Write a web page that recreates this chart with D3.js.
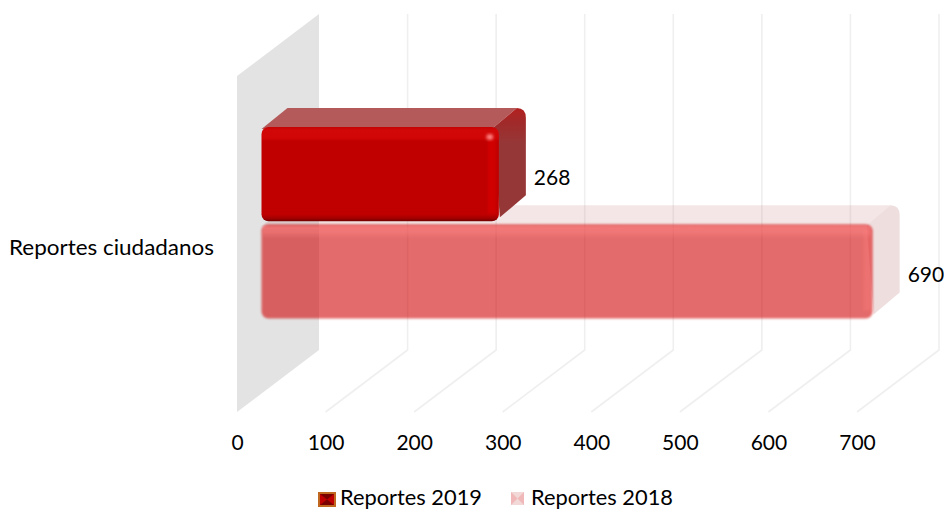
<!DOCTYPE html>
<html><head><meta charset="utf-8">
<script src="https://cdnjs.cloudflare.com/ajax/libs/d3/7.8.5/d3.min.js"></script>
<style>html,body{margin:0;padding:0;background:#fff;overflow:hidden}svg{display:block}text{font-family:Lato,"Open Sans",sans-serif;fill:#000}</style>
</head><body><svg width="944" height="510"></svg>
<script>
const category = "Reportes ciudadanos";
const seriesNames = ["Reportes 2019", "Reportes 2018"];
const seriesValues = [268, 690];
const tickValues = [0, 100, 200, 300, 400, 500, 600, 700];

const svg = d3.select("svg");
const FS = 21;
const x = d3.scaleLinear().domain([0, 700]).range([237, 857]);
const y = d3.scaleBand().domain(seriesNames).range([127, 318.5]).paddingInner(0.03).paddingOuter(0);
const floorY = 412, depthX = 82, depthY = 62, wallH = 336;
const barDx = 24.5, barDepthX = 27, barDepthY = 19;

const defs = svg.append("defs");
const blur = defs.append("filter").attr("id", "soft").attr("x", "-5%").attr("y", "-5%").attr("width", "110%").attr("height", "110%");
blur.append("feGaussianBlur").attr("stdDeviation", 1.3);
const blur2 = defs.append("filter").attr("id", "soft2").attr("x", "-60%").attr("y", "-30%").attr("width", "220%").attr("height", "160%");
blur2.append("feGaussianBlur").attr("stdDeviation", 1.8);
function vgrad(id, stops){
  const g = defs.append("linearGradient").attr("id", id).attr("x1",0).attr("y1",0).attr("x2",0).attr("y2",1);
  stops.forEach(s => g.append("stop").attr("offset", s[0]).attr("stop-color", s[1]).attr("stop-opacity", s[2] === undefined ? 1 : s[2]));
}
vgrad("front19", [[0,"#c40303"],[.03,"#d20707"],[.12,"#d00505"],[.15,"#c00000"],[.93,"#c00000"],[.97,"#a00000"],[1,"#6e0000"]]);
vgrad("side19", [[0,"#b32020"],[.14,"#a02a2a"],[.32,"#963737"],[1,"#963737"]]);
vgrad("strip18", [[0,"#ff8484",.6],[.6,"#ff8484",.4],[1,"#ff8484",0]]);

// wall
const x0 = x(0);
svg.append("path")
  .attr("d", d3.line()([[x0,floorY],[x0+depthX,floorY-depthY],[x0+depthX,floorY-depthY-wallH],[x0,floorY-wallH]]))
  .attr("fill", "#e3e3e3");

// gridlines
svg.append("g").selectAll("path").data(tickValues.slice(1)).join("path")
  .attr("d", d => d3.line()([[x(d),floorY],[x(d)+depthX,floorY-depthY],[x(d)+depthX,floorY-depthY-wallH]]))
  .attr("fill", "none").attr("stroke", "#efefef").attr("stroke-width", 1.6);

// x axis labels
const axis = d3.axisBottom(x).tickValues(tickValues).tickSize(0).tickPadding(0);
const ax = svg.append("g").attr("transform", `translate(0,${floorY+23})`).call(axis);
ax.select(".domain").remove();
ax.selectAll("text").attr("font-size", FS).attr("dy", "0.72em").style("font-family", "Lato").attr("fill", "#000");

function barGeom(name, v){
  const l = x(0) + barDx, r = x(v) + barDx, t = y(name), b = t + y.bandwidth();
  return {l, r, t, b};
}
function topPath(g){
  return `M${g.l},${g.t+2} L${g.l+barDepthX-1},${g.t-barDepthY} L${g.r+barDepthX-9},${g.t-barDepthY} L${g.r-6},${g.t+1} Z`;
}
function sidePath(g){
  return `M${g.r-6},${g.t+1} L${g.r+barDepthX-9},${g.t-barDepthY} Q${g.r+barDepthX},${g.t-barDepthY} ${g.r+barDepthX},${g.t-barDepthY+10} L${g.r+barDepthX},${g.b-barDepthY-7} L${g.r+1},${g.b-4} Z`;
}

// 2018 bar (drawn first, translucent)
const g18 = barGeom(seriesNames[1], seriesValues[1]);
const b18 = svg.append("g");
b18.append("path").attr("d", topPath(g18)).attr("fill", "#c88484").attr("fill-opacity", .2);
b18.append("path").attr("d", sidePath(g18)).attr("fill", "#c07c7c").attr("fill-opacity", .25);
const f18 = b18.append("g").attr("filter", "url(#soft)");
f18.append("rect").attr("x", g18.l).attr("y", g18.t).attr("width", g18.r-g18.l).attr("height", g18.b-g18.t).attr("rx", 7)
  .attr("fill", "rgb(209,0,0)").attr("fill-opacity", .58);
b18.append("rect").attr("x", g18.l+1).attr("y", g18.t+2).attr("width", g18.r-g18.l-3).attr("height", 12).attr("fill", "url(#strip18)").attr("filter", "url(#soft)");
b18.append("rect").attr("x", g18.r-9).attr("y", g18.t+6).attr("width", 7).attr("height", g18.b-g18.t-14).attr("fill", "#ff7c7c").attr("fill-opacity", .32).attr("filter", "url(#soft2)");

// 2019 bar
const g19 = barGeom(seriesNames[0], seriesValues[0]);
const b19 = svg.append("g");
b19.append("path").attr("d", topPath(g19)).attr("fill", "#b45a5a");
b19.append("path").attr("d", sidePath(g19)).attr("fill", "url(#side19)");
b19.append("rect").attr("x", g19.l).attr("y", g19.t).attr("width", g19.r-g19.l).attr("height", g19.b-g19.t).attr("rx", 7)
  .attr("fill", "url(#front19)");
b19.append("rect").attr("x", g19.r-11).attr("y", g19.t+8).attr("width", 8).attr("height", g19.b-g19.t-16).attr("fill", "#d00404").attr("filter", "url(#soft)");
b19.append("ellipse").attr("cx", g19.r-9).attr("cy", g19.t+10).attr("rx", 3.5).attr("ry", 3).attr("fill", "#ff8080").attr("filter", "url(#soft2)");

// data labels
const labelPos = [[g19, 8 + barDepthX, 10.5], [g18, 8 + barDepthX, 11]];
svg.append("g").selectAll("text").data(seriesValues).join("text")
  .attr("x", (d,i) => labelPos[i][0].r + labelPos[i][1])
  .attr("y", (d,i) => (labelPos[i][0].t + labelPos[i][0].b)/2 + labelPos[i][2])
  .attr("font-size", FS)
  .text(d => d);

// category label
svg.append("text").attr("x", 9).attr("y", 255).attr("font-size", FS)
  .attr("textLength", 205).attr("lengthAdjust", "spacingAndGlyphs").text(category);

// legend
const lg = svg.append("g");
const swatch19 = lg.append("g");
swatch19.append("rect").attr("x", 318).attr("y", 492).attr("width", 18).attr("height", 15).attr("fill", "#c0681f");
swatch19.append("rect").attr("x", 320).attr("y", 494).attr("width", 14).attr("height", 11).attr("fill", "#7a0000");
swatch19.append("path").attr("d", d3.line()([[320,494],[327,499.5],[320,505]])).attr("fill", "#c00000");
swatch19.append("path").attr("d", d3.line()([[334,494],[327,499.5],[334,505]])).attr("fill", "#c00000");
const swatch18 = lg.append("g");
swatch18.append("rect").attr("x", 511).attr("y", 492).attr("width", 13).attr("height", 13).attr("fill", "#f3d8d8");
swatch18.append("path").attr("d", d3.line()([[511,492],[517.5,498.5],[511,505]])).attr("fill", "#f0b8b8");
swatch18.append("path").attr("d", d3.line()([[524,492],[517.5,498.5],[524,505]])).attr("fill", "#f0b8b8");
lg.selectAll("text").data(seriesNames).join("text")
  .attr("x", (d,i) => [340, 531][i]).attr("y", 505).attr("font-size", FS)
  .attr("textLength", 142).attr("lengthAdjust", "spacingAndGlyphs").text(d => d);
</script></body></html>
